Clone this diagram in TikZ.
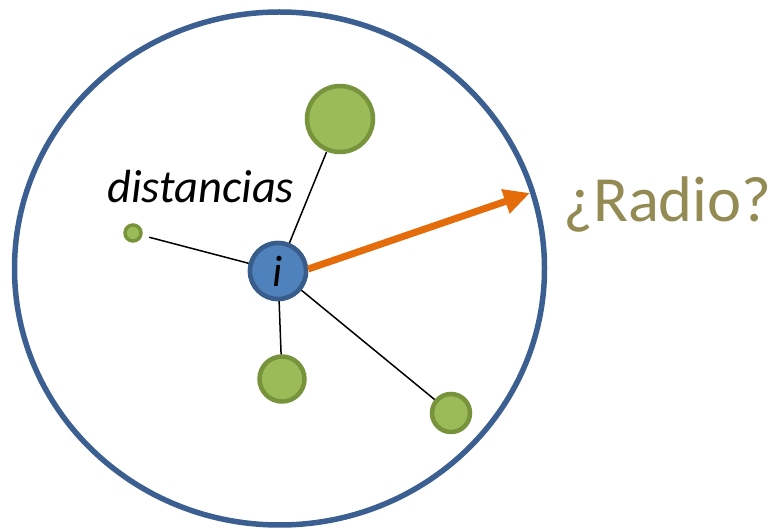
\documentclass[tikz,border=0pt]{standalone}
\usepackage{fontspec}
\setmainfont{Carlito}
\usetikzlibrary{arrows.meta}
\definecolor{ringblue}{HTML}{3C5F91}
\definecolor{ifill}{HTML}{4F81BD}
\definecolor{iborder}{HTML}{385D8A}
\definecolor{gfill}{HTML}{9BBB59}
\definecolor{gborder}{HTML}{77933C}
\definecolor{arrorange}{HTML}{E46C0A}
\definecolor{radiocol}{HTML}{948A54}
\tikzset{
  gnode/.style={circle, fill=gfill, draw=gborder, line width=4.5pt, inner sep=0pt},
  inode/.style={circle, fill=ifill, draw=iborder, line width=4.5pt, inner sep=0pt, minimum size=56pt},
  link/.style={black, line width=1.5pt},
}
\begin{document}
\begin{tikzpicture}[x=1pt,y=-1pt]
\useasboundingbox (0,0) rectangle (772,529);
\draw[ringblue, line width=5.5pt] (279.5,268.5) ellipse [x radius=265, y radius=256.5];
\node[gnode, minimum size=66pt] (top) at (340,119) {};
\node[gnode, minimum size=16pt, line width=3.5pt] (left) at (133,233) {};
\node[gnode, minimum size=45pt] (bot) at (282,379) {};
\node[gnode, minimum size=38pt] (br) at (451,413) {};
\node[inode] (i) at (278,271) {};
\draw[link, shorten >=0.5pt] (i) -- (top);
\draw[link, shorten >=7pt] (i) -- (left);
\draw[link] (i) -- (bot);
\draw[link] (i) -- (br);
\node[inode] (i2) at (278,271) {\fontsize{44}{44}\selectfont\itshape i};
\coordinate (tip) at (530,193);
\draw[arrorange, line width=7pt, -{Triangle[length=26pt,width=24pt]}] (i2.east) ++(0,-2) -- (tip);
\node[anchor=base west, inner sep=0pt, font=\fontsize{46.5}{46.5}\selectfont\itshape] (dist) at (107,203) {distancias};
\node[anchor=base west, inner sep=0pt, text=radiocol, font=\fontsize{64.5}{64.5}\selectfont] (radio) at (563,222) {¿Radio?};
\end{tikzpicture}
\end{document}
